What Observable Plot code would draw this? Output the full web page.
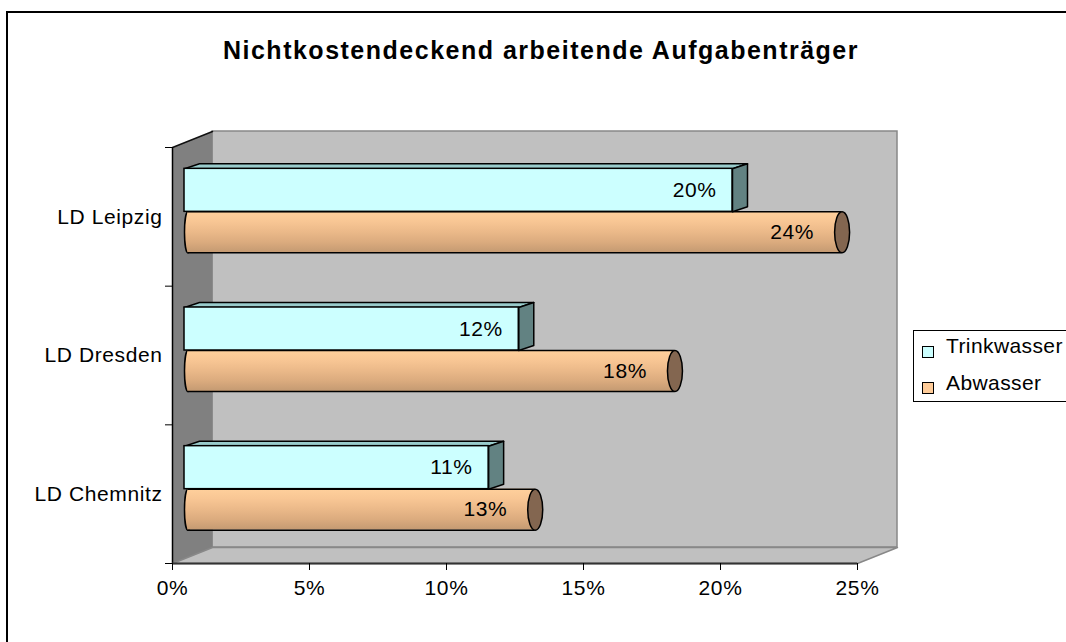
<!DOCTYPE html>
<html>
<head>
<meta charset="utf-8">
<script src="https://cdn.jsdelivr.net/npm/d3@7"></script>
<script src="https://cdn.jsdelivr.net/npm/@observablehq/plot@0.6"></script>
<style>
  html, body { margin: 0; padding: 0; background: #fff; overflow: hidden; }
  #wrap { position: relative; width: 1066px; height: 642px; overflow: hidden; font-family: "Liberation Sans", Arial, sans-serif; color: #000; }
  #wrap svg { position: absolute; left: 0; top: 0; }
  #frameL { position: absolute; left: 6px; top: 11px; width: 2px; height: 631px; background: #000; }
  #frameT { position: absolute; left: 6px; top: 11px; width: 1060px; height: 2px; background: #000; }
  #title { position: absolute; left: 0; top: 38px; width: 1082px; text-align: center; font-weight: bold; font-size: 25px; line-height: 25px; letter-spacing: 1.5px; white-space: nowrap; }
  #legend { position: absolute; left: 913px; top: 330px; width: 153px; height: 70px; border-left: 1px solid #000; border-top: 1px solid #000; border-bottom: 1px solid #000; background: #fff; }
  .lg-sq { position: absolute; width: 10px; height: 10px; border: 1px solid #000; }
  .lg-tx { position: absolute; font-size: 21px; line-height: 21px; letter-spacing: 0.4px; white-space: nowrap; }
</style>
</head>
<body>
<div id="wrap"></div>
<script>
// ---- data ----
const categories = ["LD Chemnitz", "LD Dresden", "LD Leipzig"];
const trinkwasser = [11.1, 12.2, 20.0];
const abwasser = [12.8, 17.9, 24.0];
const seriesNames = ["Trinkwasser", "Abwasser"];
const seriesColors = ["#ccffff", "#ffcc99"];
const xTicks = [0, 5, 10, 15, 20, 25];
const titleText = "Nichtkostendeckend arbeitende Aufgabenträger";

// ---- layout ----
const W = 1066, H = 642;
const mL = 172, mR = 209, mT = 147, mB = 79;
const xMax = xTicks[xTicks.length - 1];
const nCat = categories.length;
const ux = xMax / (W - mL - mR);   // data units per px (x)
const uy = nCat / (H - mT - mB);   // data units per px (y)

const wallDX = 40, wallDY = 16;     // depth of the 3D box (px)
const barDX = 12, barDY = 5;        // bar position inside depth (px)
const boxDX = 15, boxDY = 5;        // bar depth (px)
const hT = 43 * uy, hA = 41 * uy;   // bar thicknesses

const rows = categories.map((cat, i) => ({ cat, i, c: i + 0.5, t: trinkwasser[i], a: abwasser[i] }));

function poly(pts, id) { return pts.concat([pts[0]]).map(([x, y]) => ({ x, y, id })); }

const leftWall = poly([[0, 0], [0, nCat], [wallDX * ux, nCat + wallDY * uy], [wallDX * ux, wallDY * uy]], 0);
const floor = poly([[0, 0], [xMax, 0], [xMax + wallDX * ux, wallDY * uy], [wallDX * ux, wallDY * uy]], 0);

const topFaces = rows.flatMap(r => poly([
  [0, r.c + hT], [r.t, r.c + hT], [r.t + boxDX * ux, r.c + hT + boxDY * uy], [boxDX * ux, r.c + hT + boxDY * uy]
], r.i));
const sideFaces = rows.flatMap(r => poly([
  [r.t, r.c], [r.t, r.c + hT], [r.t + boxDX * ux, r.c + hT + boxDY * uy], [r.t + boxDX * ux, r.c + boxDY * uy]
], r.i));

function ellipse(rx, ry) {
  const k = 0.5522847;
  return {
    draw(ctx) {
      ctx.moveTo(rx, 0);
      ctx.bezierCurveTo(rx, ry * k, rx * k, ry, 0, ry);
      ctx.bezierCurveTo(-rx * k, ry, -rx, ry * k, -rx, 0);
      ctx.bezierCurveTo(-rx, -ry * k, -rx * k, -ry, 0, -ry);
      ctx.bezierCurveTo(rx * k, -ry, rx, -ry * k, rx, 0);
      ctx.closePath();
    }
  };
}
const capR = 20.5;

const defs = () => {
  const d = document.createElementNS("http://www.w3.org/2000/svg", "defs");
  d.innerHTML = `<linearGradient id="cyl" x1="0" y1="0" x2="0" y2="1">
    <stop offset="0" stop-color="#ffd09c"/>
    <stop offset="0.25" stop-color="#f8c694"/>
    <stop offset="0.5" stop-color="#ebb989"/>
    <stop offset="0.75" stop-color="#dbab7e"/>
    <stop offset="1" stop-color="#c49a72"/>
  </linearGradient>`;
  return d;
};

const chart = Plot.plot({
  width: W, height: H,
  marginLeft: mL, marginRight: mR, marginTop: mT, marginBottom: mB,
  x: { domain: [0, xMax] },
  y: { domain: [0, nCat] },
  style: { background: "none", fontFamily: "'Liberation Sans', Arial, sans-serif", fontSize: "21px", letterSpacing: "0.6px", color: "#000" },
  marks: [
    defs,
    // back wall
    Plot.rect([{}], { x1: 0, x2: xMax, y1: 0, y2: nCat, dx: wallDX, dy: -wallDY, fill: "#c0c0c0", stroke: "#888", strokeWidth: 1.5 }),
    // left wall
    Plot.line(leftWall, { x: "x", y: "y", z: "id", fill: "#808080", stroke: "none" }),
    // floor
    Plot.line(floor, { x: "x", y: "y", z: "id", fill: "#c0c0c0", stroke: "#888", strokeWidth: 1.5 }),
    // left wall top edge
    Plot.line([{ x: 0, y: nCat }, { x: wallDX * ux, y: nCat + wallDY * uy }], { x: "x", y: "y", stroke: "#111", strokeWidth: 1.5 }),
    // axis lines
    Plot.ruleX([0], { y1: 0, y2: nCat, stroke: "#000", strokeWidth: 1.5 }),
    Plot.ruleY([0], { x1: 0, x2: xMax, stroke: "#333", strokeWidth: 2 }),
    Plot.axisX({ ticks: xTicks, tickFormat: d => d + "%", tickSize: 7, tickPadding: 10, fontSize: 21, label: null, anchor: "bottom" }),
    Plot.axisY({ ticks: d3.range(nCat + 1), tickFormat: () => "", tickSize: 7, label: null, anchor: "left" }),
    Plot.text(rows, { x: 0, y: "c", text: "cat", textAnchor: "end", dx: -10, fontSize: 21, fill: "#000" }),
    // Abwasser cylinders
    Plot.dot(rows, { x: 0, y: r => r.c - hA / 2, symbol: ellipse(3.5, capR), fill: "url(#cyl)", stroke: "#000", strokeWidth: 1.5, dx: barDX + 3.5, dy: -barDY }),
    Plot.rect(rows, { x1: 0, x2: "a", y1: r => r.c - hA, y2: "c", insetLeft: 3.5, fill: "url(#cyl)", dx: barDX, dy: -barDY }),
    Plot.ruleY(rows, { y: r => r.c - hA, x1: 0, x2: "a", insetLeft: 3.5, stroke: "#000", strokeWidth: 1.5, dx: barDX, dy: -barDY }),
    Plot.ruleY(rows, { y: "c", x1: 0, x2: "a", insetLeft: 3.5, stroke: "#000", strokeWidth: 1.5, dx: barDX, dy: -barDY }),
    Plot.dot(rows, { x: "a", y: r => r.c - hA / 2, symbol: ellipse(7.5, capR), fill: "#836650", stroke: "#000", strokeWidth: 1.5, dx: barDX, dy: -barDY }),
    // Trinkwasser boxes
    Plot.line(topFaces, { x: "x", y: "y", z: "id", fill: "#99cccc", stroke: "#000", strokeWidth: 1.5, strokeLinejoin: "round", dx: barDX, dy: -barDY }),
    Plot.line(sideFaces, { x: "x", y: "y", z: "id", fill: "#628282", stroke: "#000", strokeWidth: 1.5, strokeLinejoin: "round", dx: barDX, dy: -barDY }),
    Plot.rect(rows, { x1: 0, x2: "t", y1: "c", y2: r => r.c + hT, fill: seriesColors[0], stroke: "#000", strokeWidth: 1.5, dx: barDX, dy: -barDY }),
    // value labels
    Plot.text(rows, { x: "t", y: r => r.c + hT / 2, text: r => Math.round(r.t) + "%", textAnchor: "end", dx: barDX - 16, dy: -barDY, fontSize: 21, fill: "#000" }),
    Plot.text(rows, { x: "a", y: r => r.c - hA / 2, text: r => Math.round(r.a) + "%", textAnchor: "end", dx: barDX - 28, dy: -barDY, fontSize: 21, fill: "#000" })
  ]
});

const wrap = document.getElementById("wrap");
wrap.appendChild(chart);

const title = document.createElement("div");
title.id = "title";
title.textContent = titleText;
wrap.appendChild(title);

const legend = document.createElement("div");
legend.id = "legend";
wrap.appendChild(legend);
seriesNames.forEach((name, i) => {
  const sq = document.createElement("div");
  sq.className = "lg-sq";
  sq.style.left = "8px";
  sq.style.top = (15 + i * 36) + "px";
  sq.style.background = seriesColors[i];
  legend.appendChild(sq);
  const tx = document.createElement("div");
  tx.className = "lg-tx";
  tx.style.left = "32px";
  tx.style.top = (4 + i * 37) + "px";
  tx.textContent = name;
  legend.appendChild(tx);
});

["frameL", "frameT"].forEach(id => {
  const el = document.createElement("div");
  el.id = id;
  wrap.appendChild(el);
});
</script>
</body>
</html>
